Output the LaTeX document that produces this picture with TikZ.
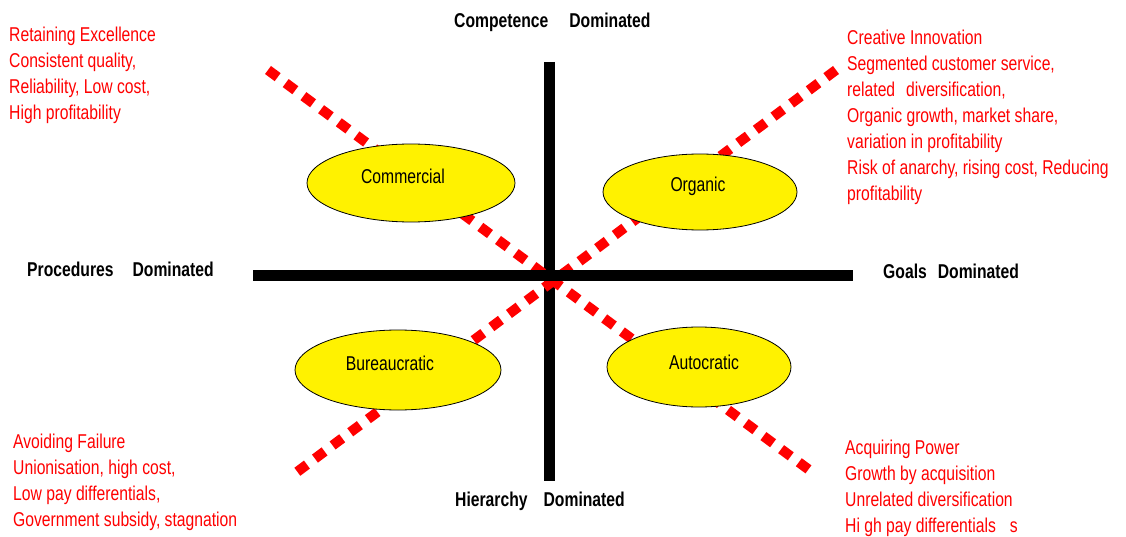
\documentclass[tikz,border=0pt]{standalone}
\usepackage{fontspec}
\setmainfont[FakeStretch=0.785]{Liberation Sans}
\usetikzlibrary{shapes.geometric}

\begin{document}
\begin{tikzpicture}[x=1pt, y=-1pt,
    quad/.style={draw, ellipse, fill=yellow, line width=0.8pt, inner sep=0pt},
    tag/.style={inner sep=0pt, font=\fontsize{20}{26}\selectfont},
    note/.style={anchor=north west, inner sep=0pt, align=left, text=red,
      font=\fontsize{20}{26}\selectfont},
    axis/.style={anchor=north west, inner sep=0pt,
      font=\bfseries\fontsize{20}{26}\selectfont},
    bar/.style={line width=11pt},
    split/.style={red, line width=10pt, dash pattern=on 12pt off 10pt}
  ]
  \useasboundingbox (0,0) rectangle (1126,537);

  % axes
  \coordinate (top) at (549,62);
  \coordinate (bottom) at (549,481);
  \coordinate (left) at (253,275);
  \coordinate (right) at (853,275);
  \draw[bar] (top) -- (bottom);

  % diagonals
  \coordinate (nw) at (268,70);
  \coordinate (se) at (812,472);
  \coordinate (ne) at (836,70);
  \coordinate (sw) at (297,472);
  \draw[split] (nw) -- (se);
  \draw[split] (ne) -- (sw);

  \draw[bar] (left) -- (right);

  % quadrants
  \node[quad, minimum width=208pt, minimum height=78pt,
    label={[tag, xshift=-8pt, yshift=7pt]center:Commercial}] (comm) at (411,183) {};
  \node[quad, minimum width=194pt, minimum height=76pt,
    label={[tag, xshift=-2pt, yshift=6pt]center:Organic}] (org) at (700,192) {};
  \node[quad, minimum width=206pt, minimum height=80pt,
    label={[tag, xshift=-8pt, yshift=7pt]center:Bureaucratic}] (bur) at (398,370) {};
  \node[quad, minimum width=184pt, minimum height=80pt,
    label={[tag, xshift=5pt, yshift=5pt]center:Autocratic}] (aut) at (699,367) {};

  % axis labels
  \node[axis] (compet) at (454,13) {Competence\hspace{21pt}Dominated};
  \node[axis] (hier) at (455,492) {Hierarchy\hspace{16pt}Dominated};
  \node[axis] (proc) at (27,262) {Procedures\hspace{19pt}Dominated};
  \node[axis] (goals) at (883,264) {Goals\hspace{11pt}Dominated};

  % notes
  \node[note] (excel) at (9,27) {Retaining Excellence\\
    Consistent quality,\\
    Reliability, Low cost,\\
    High profitability};
  \node[note] (innov) at (847,30) {Creative Innovation\\
    Segmented customer service,\\
    related\hspace{11pt}diversification,\\
    Organic growth, market share,\\
    variation in profitability\\
    Risk of anarchy, rising cost, Reducing\\
    profitability};
  \node[note] (fail) at (13,434) {Avoiding Failure\\
    Unionisation, high cost,\\
    Low pay differentials,\\
    Government subsidy, stagnation};
  \node[note] (power) at (845,440) {Acquiring Power\\
    Growth by acquisition\\
    Unrelated diversification\\
    Hi gh pay differentials\hspace{14pt}s};
\end{tikzpicture}
\end{document}
